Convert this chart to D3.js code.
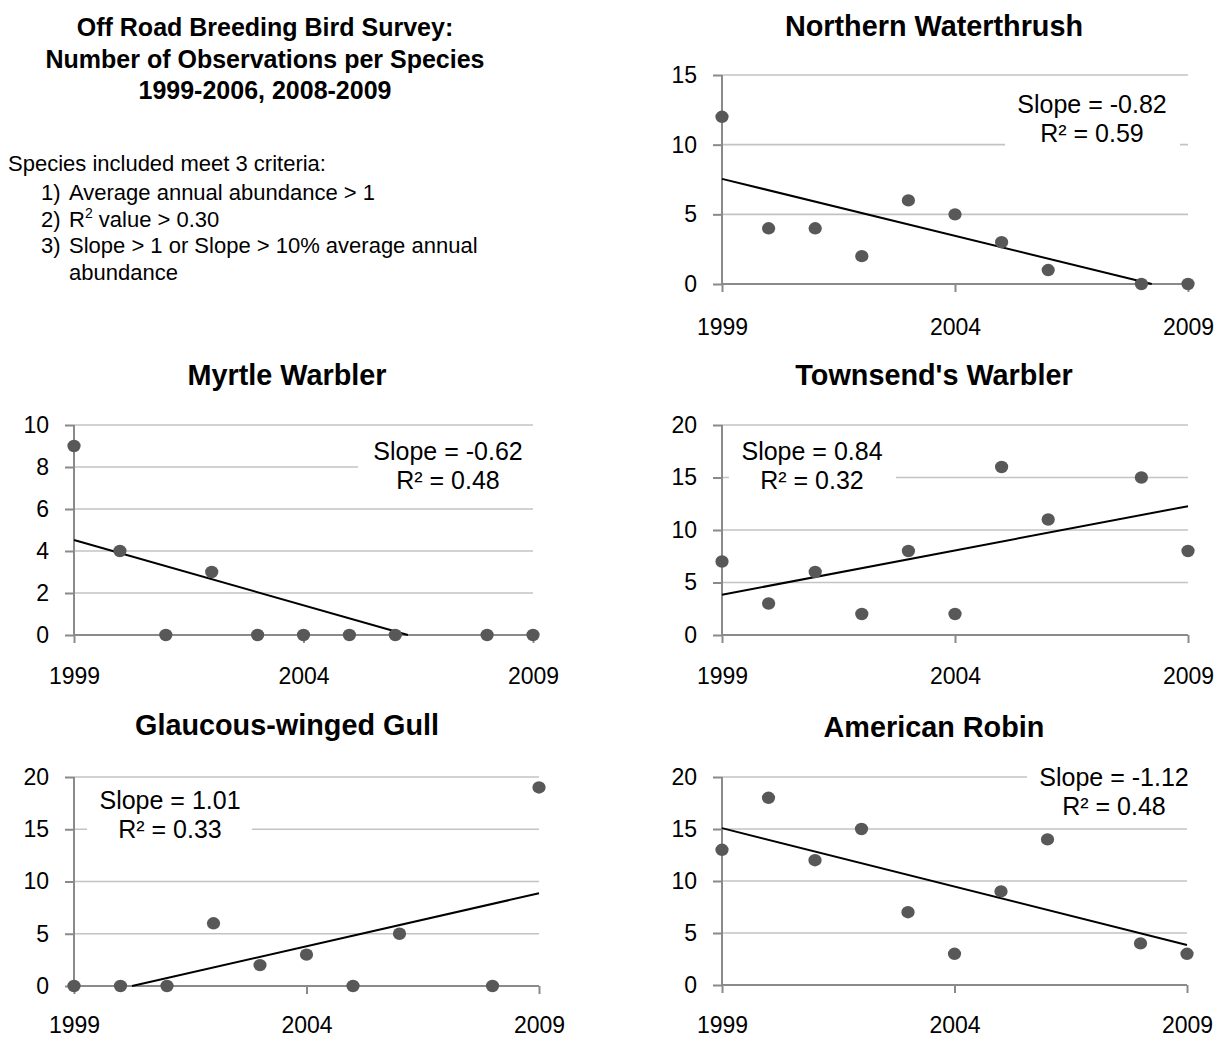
<!DOCTYPE html>
<html><head><meta charset="utf-8">
<script src="https://cdn.jsdelivr.net/npm/d3@7"></script>
<style>
body{margin:0;background:#fff}
text{font-family:"Liberation Sans",Arial,sans-serif;fill:#000}
</style>
</head><body><svg id="c" width="1222" height="1040"></svg>
<script>
// ---------- data ----------
const years = [1999, 2000, 2001, 2002, 2003, 2004, 2005, 2006, 2008, 2009];
const xTickYears = [1999, 2004, 2009];
const speciesNames = ["Northern Waterthrush", "Myrtle Warbler", "Townsend's Warbler", "Glaucous-winged Gull", "American Robin"];
const northernWaterthrush = [12, 4, 4, 2, 6, 5, 3, 1, 0, 0];
const myrtleWarbler = [9, 4, 0, 3, 0, 0, 0, 0, 0, 0];
const townsendsWarbler = [7, 3, 6, 2, 8, 2, 16, 11, 15, 8];
const glaucousWingedGull = [0, 0, 0, 6, 2, 3, 0, 5, 0, 19];
const americanRobin = [13, 18, 12, 15, 7, 3, 9, 14, 4, 3];
const slopeLabels = ["Slope = -0.82", "Slope = -0.62", "Slope = 0.84", "Slope = 1.01", "Slope = -1.12"];
const r2Labels = ["R² = 0.59", "R² = 0.48", "R² = 0.32", "R² = 0.33", "R² = 0.48"];
const yMaxes = [15, 10, 20, 20, 20];
const yTickSteps = [5, 2, 5, 5, 5];
const titleLines = ["Off Road Breeding Bird Survey:", "Number of Observations per Species", "1999-2006, 2008-2009"];
const criteriaIntro = "Species included meet 3 criteria:";
const criteriaNumbers = ["1)", "2)", "3)", ""];
const criteriaTexts = ["Average annual abundance > 1", "R|2| value > 0.30", "Slope > 1 or Slope > 10% average annual", "abundance"];

const seriesList = [northernWaterthrush, myrtleWarbler, townsendsWarbler, glaucousWingedGull, americanRobin];

// ---------- layout (pixels) ----------
const layout = [
  {x0: 722, x1: 1188, yB: 284, yT: 75,  tx: 934, ty: 36,  lx: 1092, ly: 113, lab: 27, box: [1005, 89, 175, 63]},
  {x0: 74,  x1: 533,  yB: 635, yT: 425, tx: 287, ty: 385, lx: 448,  ly: 460, lab: 25, box: [358, 438, 182, 59]},
  {x0: 722, x1: 1188, yB: 635, yT: 425, tx: 934, ty: 385, lx: 812,  ly: 460, lab: 25, box: [729, 438, 167, 59]},
  {x0: 74,  x1: 539,  yB: 986, yT: 777, tx: 287, ty: 735, lx: 170,  ly: 809, lab: 23, box: [87, 787, 165, 59]},
  {x0: 722, x1: 1187, yB: 985, yT: 777, tx: 934, ty: 737, lx: 1114, ly: 786, lab: 24, box: [1027, 763, 175, 59]}
];

const GRID = "#c3c3c3", AXIS = "#8a8a8a", DOT = "#585858";
const svg = d3.select("#c");

// ---------- left text block ----------
const tb = svg.append("g");
titleLines.forEach((t, i) => {
  tb.append("text").attr("x", 265).attr("y", 36 + i * 31.5).attr("text-anchor", "middle")
    .attr("font-size", 25).attr("font-weight", "bold").text(t);
});
tb.append("text").attr("x", 8).attr("y", 171).attr("font-size", 22).text(criteriaIntro);
criteriaTexts.forEach((t, i) => {
  const y = 200 + i * 26.5;
  if (criteriaNumbers[i]) tb.append("text").attr("x", 41).attr("y", y).attr("font-size", 22).text(criteriaNumbers[i]);
  const tx = tb.append("text").attr("x", 69).attr("y", y).attr("font-size", 22);
  const parts = t.split("|");
  if (parts.length === 3) {
    tx.append("tspan").text(parts[0]);
    tx.append("tspan").attr("font-size", 14).attr("dy", -9).text(parts[1]);
    tx.append("tspan").attr("dy", 9).text(parts[2]);
  } else tx.text(t);
});

// ---------- regression helper ----------
function regression(xs, ys) {
  const n = xs.length, mx = d3.mean(xs), my = d3.mean(ys);
  let sxy = 0, sxx = 0;
  for (let i = 0; i < n; i++) { sxy += (xs[i] - mx) * (ys[i] - my); sxx += (xs[i] - mx) ** 2; }
  const b = sxy / sxx; return {b, a: my - b * mx};
}

// ---------- panels ----------
seriesList.forEach((vals, k) => {
  const L = layout[k];
  const x = d3.scaleLinear().domain([years[0], years[years.length - 1]]).range([L.x0, L.x1]);
  const y = d3.scaleLinear().domain([0, yMaxes[k]]).range([L.yB, L.yT]);
  const yTicks = d3.range(0, yMaxes[k] + 0.001, yTickSteps[k]);
  const g = svg.append("g");

  // title
  g.append("text").attr("x", L.tx).attr("y", L.ty).attr("text-anchor", "middle")
    .attr("font-size", 28.8).attr("font-weight", "bold").text(speciesNames[k]);

  // gridlines
  g.selectAll(".grid").data(yTicks.slice(1)).enter().append("line")
    .attr("x1", L.x0).attr("x2", L.x1).attr("y1", d => y(d)).attr("y2", d => y(d))
    .attr("stroke", GRID).attr("stroke-width", 1.6);

  // label background box
  g.append("rect").attr("x", L.box[0]).attr("y", L.box[1]).attr("width", L.box[2]).attr("height", L.box[3]).attr("fill", "#fff");

  // axes
  const ax = g.append("g").attr("transform", `translate(0,${L.yB})`)
    .call(d3.axisBottom(x).tickValues(xTickYears).tickFormat(d3.format("d")).tickSize(8).tickPadding(L.lab));
  const ay = g.append("g").attr("transform", `translate(${L.x0},0)`)
    .call(d3.axisLeft(y).tickValues(yTicks).tickSize(9).tickPadding(16));
  [ax, ay].forEach(a => {
    a.select(".domain").remove();
    a.selectAll("line").attr("stroke", AXIS).attr("stroke-width", 2);
    a.selectAll("text").attr("font-size", 23).attr("fill", "#000").style("font-family", '"Liberation Sans",Arial,sans-serif');
  });
  g.append("line").attr("x1", L.x0).attr("x2", L.x1).attr("y1", L.yB).attr("y2", L.yB).attr("stroke", AXIS).attr("stroke-width", 2);
  g.append("line").attr("x1", L.x0).attr("x2", L.x0).attr("y1", L.yT).attr("y2", L.yB).attr("stroke", AXIS).attr("stroke-width", 2);

  // trend line clipped to plot area
  const {a, b} = regression(years, vals);
  let xa = years[0], xb = years[years.length - 1];
  const f = t => a + b * t;
  const yMin = 0, yMax = yMaxes[k];
  if (f(xa) < yMin) xa = (yMin - a) / b;
  if (f(xb) < yMin) xb = (yMin - a) / b;
  if (f(xa) > yMax) xa = (yMax - a) / b;
  if (f(xb) > yMax) xb = (yMax - a) / b;
  g.append("line").attr("x1", x(xa)).attr("y1", y(f(xa))).attr("x2", x(xb)).attr("y2", y(f(xb)))
    .attr("stroke", "#000").attr("stroke-width", 2);

  // points
  g.selectAll(".pt").data(vals).enter().append("ellipse")
    .attr("cx", (d, i) => x(years[i])).attr("cy", d => y(d))
    .attr("rx", 6.6).attr("ry", 6.2).attr("fill", DOT);

  // slope / r2 label
  g.append("text").attr("x", L.lx).attr("y", L.ly).attr("text-anchor", "middle").attr("font-size", 25).text(slopeLabels[k]);
  g.append("text").attr("x", L.lx).attr("y", L.ly + 29).attr("text-anchor", "middle").attr("font-size", 25).text(r2Labels[k]);
});
</script>
</body></html>
